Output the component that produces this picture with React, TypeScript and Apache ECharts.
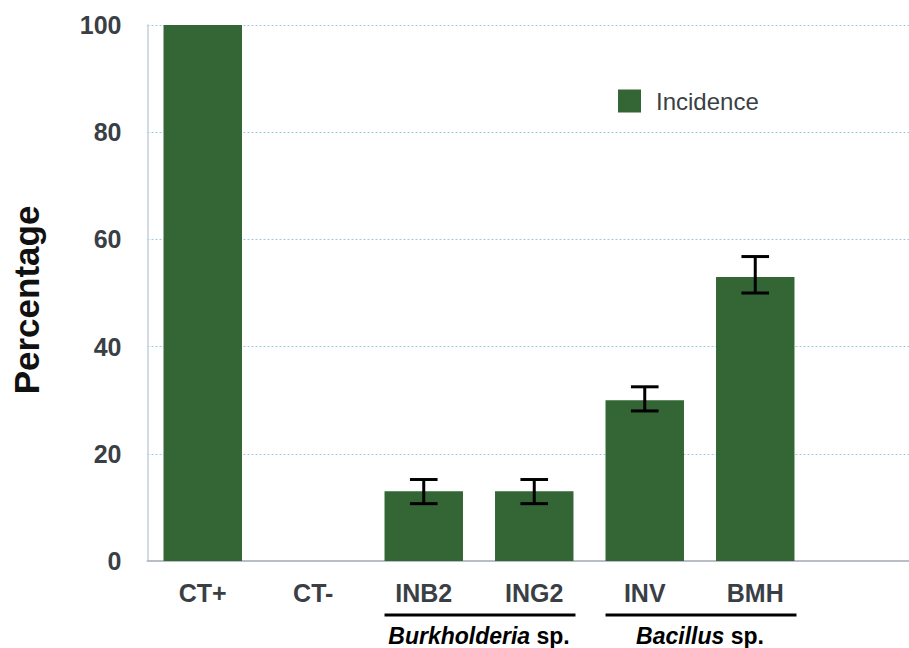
import React, { useEffect, useRef } from "react";
import * as echarts from "echarts";

const categories = ["CT+", "CT-", "INB2", "ING2", "INV", "BMH"];
const incidence = [100, 0, 13, 13, 30, 53];
const errLow = [null, null, 10.7, 10.7, 28, 50];
const errHigh = [null, null, 15.2, 15.2, 32.5, 56.8];
const yTicks = [0, 20, 40, 60, 80, 100];
const groups = [
  { genus: "Burkholderia", suffix: " sp.", from: "INB2", to: "ING2" },
  { genus: "Bacillus", suffix: " sp.", from: "INV", to: "BMH" },
];

const FONT = "'Liberation Sans', Arial, Helvetica, sans-serif";
const GREEN = "#336535";
const LABEL = "#3a3f46";

export default function App() {
  const ref = useRef<HTMLDivElement>(null);
  useEffect(() => {
    if (!ref.current) return;
    const chart = echarts.init(ref.current, undefined, { renderer: "svg" });
    const xCats = [...categories, ""];
    const errData = categories
      .map((c, i) => (errLow[i] == null ? null : [i, errLow[i], errHigh[i]]))
      .filter((d) => d != null);
    const option: any = {
      animation: false,
      backgroundColor: "#ffffff",
      grid: { left: 147.5, right: 0, top: 25, bottom: 87, containLabel: false },
      legend: {
        data: ["Incidence"],
        left: 618,
        top: 89,
        padding: 0,
        itemWidth: 23,
        itemHeight: 23,
        icon: "rect",
        textStyle: { fontFamily: FONT, fontSize: 24, color: LABEL, padding: [0, 0, 0, 10] },
      },
      xAxis: {
        type: "category",
        data: xCats,
        axisLine: { show: true, lineStyle: { color: "#b9bec6", width: 2 } },
        axisTick: { show: false },
        axisLabel: {
          fontFamily: FONT,
          fontSize: 25,
          fontWeight: "bold",
          color: LABEL,
          margin: 19,
        },
        splitLine: { show: false },
      },
      yAxis: {
        type: "value",
        min: 0,
        max: 100,
        interval: 20,
        name: "Percentage",
        nameLocation: "middle",
        nameGap: 104,
        nameTextStyle: {
          fontFamily: FONT,
          fontSize: 35,
          fontWeight: "bold",
          color: "#111111",
          padding: [0, 14, 0, 0],
        },
        axisLine: { show: true, lineStyle: { color: "#c3cfdb", width: 1.5 } },
        axisTick: { show: false },
        axisLabel: {
          fontFamily: FONT,
          fontSize: 25,
          fontWeight: "bold",
          color: LABEL,
          margin: 26,
          formatter: (v: number) => (yTicks.includes(v) ? String(v) : ""),
        },
        splitLine: { show: true, lineStyle: { color: "#9cc9e0", type: [2, 2], width: 1 } },
      },
      series: [
        {
          name: "Incidence",
          type: "bar",
          data: incidence,
          barCategoryGap: "29%",
          itemStyle: { color: GREEN },
        },
        {
          name: "error",
          type: "custom",
          data: errData,
          encode: { x: 0, y: [1, 2] },
          z: 5,
          renderItem: (params: any, api: any) => {
            const xi = api.value(0);
            const lo = api.coord([xi, api.value(1)]);
            const hi = api.coord([xi, api.value(2)]);
            const band = api.size([1, 0])[0];
            const hw = band * 0.125;
            const style = { stroke: "#000000", lineWidth: 3 };
            return {
              type: "group",
              children: [
                { type: "line", shape: { x1: lo[0], y1: lo[1], x2: hi[0], y2: hi[1] }, style },
                { type: "line", shape: { x1: lo[0] - hw, y1: lo[1], x2: lo[0] + hw, y2: lo[1] }, style },
                { type: "line", shape: { x1: hi[0] - hw, y1: hi[1], x2: hi[0] + hw, y2: hi[1] }, style },
              ],
            };
          },
        },
      ],
    };
    chart.setOption(option);

    const x0 = chart.convertToPixel({ xAxisIndex: 0 }, 0) as number;
    const x1 = chart.convertToPixel({ xAxisIndex: 0 }, 1) as number;
    const band = x1 - x0;
    const halfBar = (band * 0.71) / 2;
    const baseY = chart.convertToPixel({ yAxisIndex: 0 }, 0) as number;
    const graphic: any[] = [];
    groups.forEach((g) => {
      const a = chart.convertToPixel({ xAxisIndex: 0 }, categories.indexOf(g.from)) as number;
      const b = chart.convertToPixel({ xAxisIndex: 0 }, categories.indexOf(g.to)) as number;
      graphic.push({
        type: "line",
        shape: { x1: a - halfBar, y1: baseY + 54, x2: b + halfBar + 2, y2: baseY + 54 },
        style: { stroke: "#000000", lineWidth: 3 },
      });
      graphic.push({
        type: "text",
        x: (a + b) / 2,
        y: baseY + 75,
        style: {
          text: `{i|${g.genus}}{n|${g.suffix}}`,
          align: "center",
          verticalAlign: "middle",
          rich: {
            i: { fontFamily: FONT, fontSize: 23, lineHeight: 22, fontWeight: "bold", fontStyle: "italic", fill: "#000000" },
            n: { fontFamily: FONT, fontSize: 23, lineHeight: 22, fontWeight: "bold", fill: "#000000" },
          },
        },
      });
    });
    chart.setOption({ graphic });

    return () => chart.dispose();
  }, []);
  return (
    <div
      style={{ position: "fixed", left: 0, top: 0, width: 909, height: 648, overflow: "hidden", background: "#fff" }}
    >
      <div ref={ref} style={{ width: 921, height: 648 }} />
    </div>
  );
}
